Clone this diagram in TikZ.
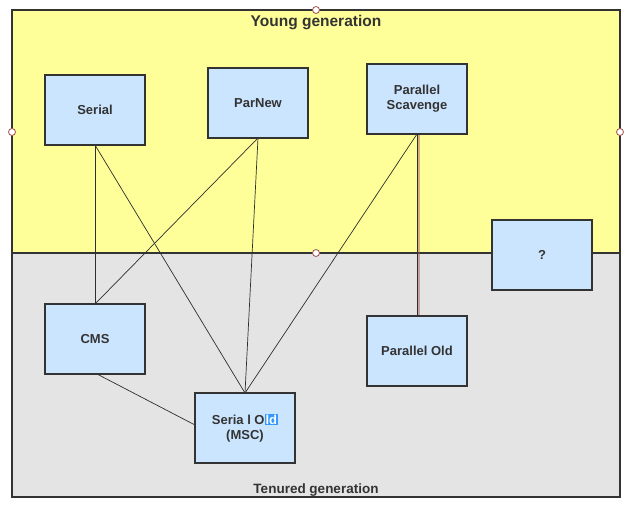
\documentclass[tikz,border=0pt]{standalone}
\usepackage{fontspec}
\setmainfont{Liberation Sans}
\definecolor{ylw}{HTML}{FFFF99}
\definecolor{gry}{HTML}{E4E4E4}
\definecolor{boxfill}{HTML}{CCE5FF}
\definecolor{edge}{HTML}{333333}
\definecolor{handle}{HTML}{A05050}
\definecolor{hl}{HTML}{3399FF}
\tikzset{
  gc/.style={draw=edge, line width=1.6pt, fill=boxfill, minimum width=100pt, minimum height=70pt, inner sep=0pt, align=center, font=\bfseries\fontsize{13}{15}\selectfont, text=edge},
  region/.style={draw=edge, line width=1.6pt},
  link/.style={draw=edge!90!black, line width=0.7pt},
  hdl/.style={circle, draw=handle, fill=white, line width=0.8pt, minimum size=7pt, inner sep=0pt}
}
\begin{document}
\begin{tikzpicture}[x=1pt,y=-1pt]
\useasboundingbox (0,0) rectangle (636,508);
% regions
\path[region, fill=gry] (12,253) rectangle (620,497);
\path[region, fill=ylw] (12,10) rectangle (620,253);
\node[font=\bfseries\fontsize{15.5}{17}\selectfont, text=edge] (ytitle) at (316,22.5) {Young generation};
\node[font=\bfseries\fontsize{13.5}{15}\selectfont, text=edge] (ttitle) at (316,490.5) {Tenured generation};
% boxes (positions)
\coordinate (serialc) at (95,110);
\coordinate (parnewc) at (258,103);
\coordinate (psc) at (417,99);
\coordinate (qc) at (542,255);
\coordinate (cmsc) at (95,339);
\coordinate (poc) at (417,351);
\coordinate (soc) at (245,428);
% links
\path[link] (95,145) coordinate (s1) -- (95,304) coordinate (c1);
\path[link] (s1) -- (245,393) coordinate (so1);
\path[link] (258,138) coordinate (p1) -- (c1);
\path[link] (p1) -- (so1);
\path[link] (417,134) coordinate (ps1) -- (so1);
\draw[color=handle, opacity=0.45, line width=2pt] (419,134) -- (419,316);
\path[link, line width=1pt] (ps1) -- (417,316) coordinate (po1);
\path[link] (97,374) coordinate (c2) -- (195,425) coordinate (so2);
% nodes
\node[gc] (serial) at (serialc) {Serial};
\node[gc] (parnew) at (parnewc) {ParNew};
\node[gc] (ps) at (psc) {Parallel\\Scavenge};
\node[gc] (q) at (qc) {?};
\node[gc] (cms) at (cmsc) {CMS};
\node[gc] (po) at (poc) {Parallel Old};
\node[gc] (so) at (soc) {Seria l O{\setlength\fboxsep{1pt}\colorbox{hl}{\textcolor{white}{ld}}}\\(MSC)};
% selection handles
\node[hdl] (h1) at (316,10) {};
\node[hdl] (h2) at (12,132) {};
\node[hdl] (h3) at (620,132) {};
\node[hdl] (h4) at (316,253) {};
\end{tikzpicture}
\end{document}
